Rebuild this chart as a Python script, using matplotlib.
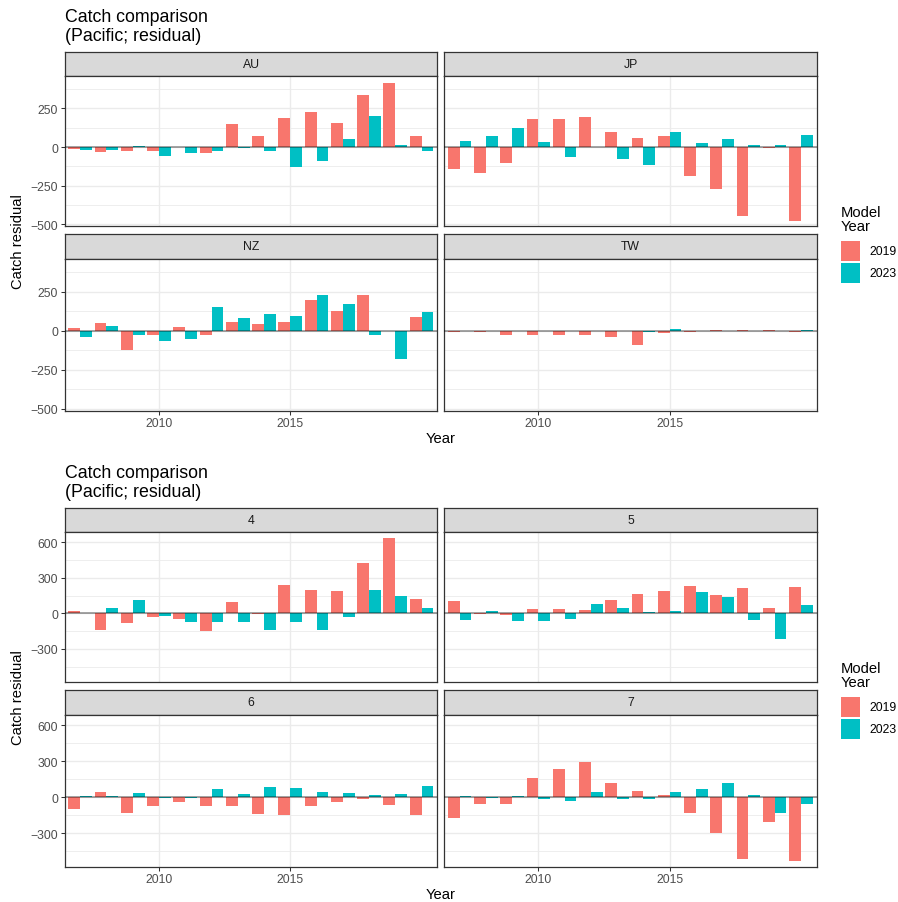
import numpy as np
import matplotlib.pyplot as plt
from matplotlib.patches import Rectangle

plt.rcParams["font.family"] = ["Liberation Sans", "DejaVu Sans"]

# -----------------------------
# data
# -----------------------------
years = np.arange(2007, 2021)
model_years = ["2019", "2023"]

# top chart: fleets
fleet_names = ["AU", "JP", "NZ", "TW"]
au_2019 = [-13, -35, -28, -28, 3, -41, 147, 69, 186, 225, 154, 336, 415, 69]
au_2023 = [-22, -22, 4, -60, -41, -28, -5, -28, -126, -93, 50, 199, 11, -28]
jp_2019 = [-145, -165, -106, 180, 180, 193, 95, 56, 69, -190, -268, -444, -4, -478]
jp_2023 = [37, 69, 121, 30, -67, 3, -74, -119, 95, 24, 50, 11, 11, 76]
nz_2019 = [15, 48, -121, -30, 22, -24, 54, 41, 54, 197, 126, 229, -4, 87]
nz_2023 = [-43, 28, -30, -63, -50, 152, 80, 106, 93, 229, 171, -24, -180, 119]
tw_2019 = [-11, -8, -24, -30, -24, -30, -43, -89, -17, -8, 4, 4, 4, -8]
tw_2023 = [-2, -2, -2, -2, -2, -2, -2, -6, 9, -2, -2, -2, -2, 2]

# bottom chart: areas
area_names = ["4", "5", "6", "7"]
a4_2019 = [20, -141, -82, -31, -48, -150, 96, -5, 241, 198, 190, 427, 635, 122]
a4_2023 = [5, 45, 113, -23, -74, -74, -74, -141, -74, -141, -31, 198, 147, 45]
a5_2019 = [105, -5, -14, 37, 37, 28, 113, 164, 190, 232, 156, 215, 45, 224]
a5_2023 = [-57, 20, -65, -65, -48, 79, 45, 11, 20, 181, 139, -57, -218, 71]
a6_2019 = [-99, 45, -133, -74, -40, -74, -74, -141, -150, -74, -40, -14, -65, -150]
a6_2023 = [11, 11, 37, -3, -3, 71, 28, 88, 79, 45, 37, 20, 28, 96]
a7_2019 = [-175, -57, -57, 156, 232, 292, 122, 54, 20, -133, -303, -515, -209, -532]
a7_2023 = [11, -5, 11, -14, -31, 45, -14, -14, 45, 71, 122, 20, -133, -57]

RED = "#F8766D"
TEAL = "#00BFC4"
DARK = "#333333"

W, H = 898, 903
fig = plt.figure(figsize=(W / 100, H / 100), dpi=100)


def px_axes(x0, y0, x1, y1):
    return fig.add_axes([x0 / W, 1 - y1 / H, (x1 - x0) / W, (y1 - y0) / H])


# overlay in pixel coords for titles / legend
ov = fig.add_axes([0, 0, 1, 1])
ov.set_xlim(0, W)
ov.set_ylim(H, 0)
ov.set_axis_off()

cols = [(65, 437.3), (444.3, 816.7)]
rows = [(53, 77, 227), (235, 260, 411.5)]


def draw_chart(off, names, data, ylim, major, minor):
    for k, (name, (v19, v23)) in enumerate(zip(names, data)):
        ri, ci = divmod(k, 2)
        x0, x1 = cols[ci]
        st, pt, pb = [v + off for v in rows[ri]]

        sax = px_axes(x0, st, x1, pt)
        sax.set_facecolor("#D9D9D9")
        sax.set_xticks([])
        sax.set_yticks([])
        for s in sax.spines.values():
            s.set_color(DARK)
            s.set_linewidth(0.9)
        sax.text(0.5, 0.5, name, ha="center", va="center", fontsize=8.8,
                 color="#1A1A1A", transform=sax.transAxes)

        ax = px_axes(x0, pt, x1, pb)
        ax.bar(years - 0.225, v19, width=0.45, color=RED, zorder=2)
        ax.bar(years + 0.225, v23, width=0.45, color=TEAL, zorder=2)
        ax.axhline(0, color="black", alpha=0.45, lw=1.1, zorder=3)
        ax.set_xlim(2006.42, 2020.6)
        ax.set_ylim(*ylim)
        ax.set_xticks([2010, 2015])
        ax.set_yticks(major)
        ax.set_yticks(minor, minor=True)
        ax.set_axisbelow(True)
        ax.grid(which="major", color="#EBEBEB", lw=1.0)
        ax.grid(which="minor", axis="y", color="#EBEBEB", lw=0.6)
        ax.tick_params(which="minor", length=0)
        ax.tick_params(which="major", length=2.75, width=0.75, color=DARK,
                       labelsize=8.8, labelcolor="#4D4D4D", pad=2.2)
        if ci == 1:
            ax.tick_params(axis="y", left=False, labelleft=False)
        if ri == 0:
            ax.tick_params(axis="x", bottom=False, labelbottom=False)
        for s in ax.spines.values():
            s.set_color(DARK)
            s.set_linewidth(0.9)

    # titles
    ov.text(65, 22 + off, "Catch comparison", fontsize=12.8, va="baseline", ha="left")
    ov.text(65, 41 + off, "(Pacific; residual)", fontsize=12.8, va="baseline", ha="left")
    ov.text(441, 439 + off, "Year", fontsize=10.6, ha="center", va="center")
    ov.text(18, 242 + off, "Catch residual", fontsize=10.6, ha="center", va="center",
            rotation=90)

    # legend
    ov.text(840.7, 216.7 + off, "Model", fontsize=10.6, va="baseline", ha="left")
    ov.text(840.7, 230.7 + off, "Year", fontsize=10.6, va="baseline", ha="left")
    for (y0, y1), c, lab in zip([(241.7, 261.7), (264, 284)], [RED, TEAL], model_years):
        ov.add_patch(Rectangle((840.7, y0 + off), 19.3, y1 - y0, color=c, lw=0))
        ov.text(869.3, (y0 + y1) / 2 + off, lab, fontsize=8.8, va="center", ha="left")


draw_chart(0, fleet_names,
           [(au_2019, au_2023), (jp_2019, jp_2023), (nz_2019, nz_2023), (tw_2019, tw_2023)],
           (-510, 459), [-500, -250, 0, 250], [-375, -125, 125, 375])
draw_chart(456, area_names,
           [(a4_2019, a4_2023), (a5_2019, a5_2023), (a6_2019, a6_2023), (a7_2019, a7_2023)],
           (-580, 687), [-300, 0, 300, 600], [-450, -150, 150, 450])

fig.savefig("out.png", dpi=100)
